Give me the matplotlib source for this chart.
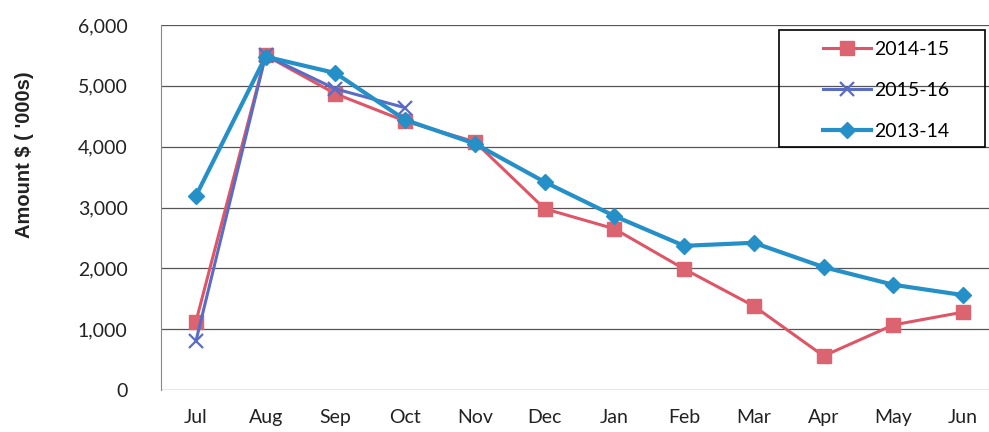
import matplotlib.pyplot as plt
from matplotlib.patches import Rectangle
import numpy as np

# monthly amounts, $ '000s
months = ['Jul', 'Aug', 'Sep', 'Oct', 'Nov', 'Dec', 'Jan', 'Feb', 'Mar', 'Apr', 'May', 'Jun']
fy_2014_15 = [1120, 5500, 4870, 4420, 4080, 2980, 2650, 1990, 1380, 560, 1070, 1280]
fy_2015_16 = [800, 5500, 4950, 4640]
fy_2013_14 = [3190, 5480, 5210, 4440, 4050, 3420, 2860, 2370, 2420, 2020, 1730, 1560]

plt.rcParams['font.family'] = ['Lato', 'DejaVu Sans']

W, H = 989, 432
fig = plt.figure(figsize=(W / 100, H / 100), dpi=100)
ax = fig.add_axes([161 / W, 1 - 390 / H, 837 / W, 365 / H])

x = np.arange(len(months))
ax.plot(x, fy_2014_15, color='#e05566', lw=2.2, marker='s', ms=10,
        mfc='#dc6470', mec='#dc6470', label='2014-15', zorder=3)
ax.plot(x[:len(fy_2015_16)], fy_2015_16, color='#5a6cc4', lw=2.2, marker='x', ms=10,
        mew=1.6, label='2015-16', zorder=4)
ax.plot(x, fy_2013_14, color='#2590c8', lw=3.0, marker='D', ms=8,
        mfc='#2590c8', mec='#2590c8', label='2013-14', zorder=5)

ax.set_xlim(-0.5, 11.5)
ax.set_ylim(0, 6000)
ax.set_yticks(np.arange(0, 6001, 1000))
ax.set_yticklabels([f'{v:,}' for v in range(0, 6001, 1000)])
ax.set_xticks(x)
ax.set_xticklabels(months)
ax.tick_params(axis='both', length=0, labelsize=14, colors='#222222')
ax.tick_params(axis='y', pad=24)
ax.tick_params(axis='x', pad=14)

ax.grid(axis='y', color='#555555', lw=0.9)
ax.set_axisbelow(True)
for side in ['top', 'right', 'bottom']:
    ax.spines[side].set_visible(False)
ax.spines['left'].set_color('#888888')

ax.set_ylabel("Amount $ ( '000s)", family='Liberation Sans', fontweight='bold',
              fontsize=14.5, color='#222222')
ax.yaxis.set_label_coords((34 - 161) / 837, (390 - 155) / 365)

# legend entries without their own frame, boxed separately
leg = ax.legend(loc='upper left', bbox_to_anchor=(809 / W, 1 - 27 / H),
                bbox_transform=fig.transFigure, frameon=False,
                fontsize=14, handlelength=2.5,
                borderpad=0.7, labelspacing=1.25, handletextpad=0.15,
                borderaxespad=0)
fig.patches.append(Rectangle((779 / W, 1 - 147 / H), 206 / W, 117 / H,
                             transform=fig.transFigure, fill=False,
                             edgecolor='black', lw=1.2, zorder=10))

fig.savefig('out.png', dpi=100)
